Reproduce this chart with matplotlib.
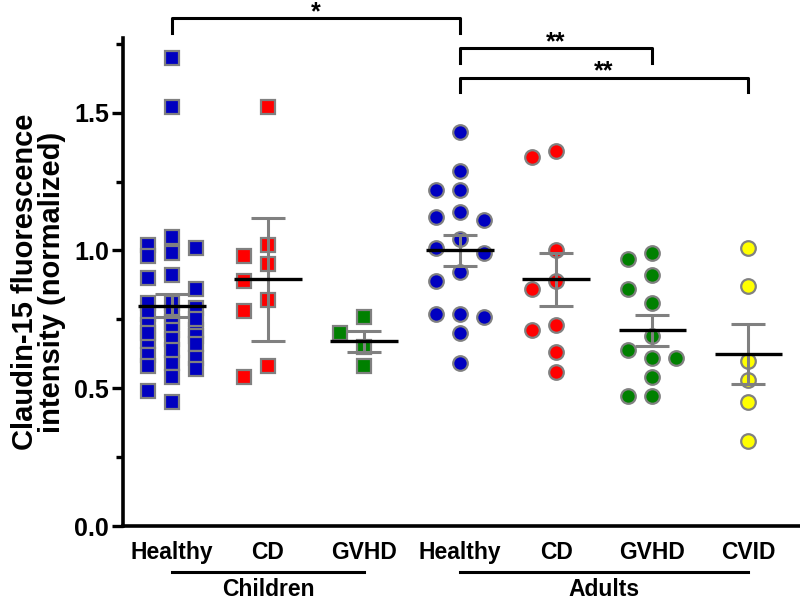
import numpy as np
import matplotlib.pyplot as plt
from matplotlib.ticker import FormatStrFormatter, MultipleLocator

plt.rcParams['font.family'] = ['Liberation Sans', 'DejaVu Sans']
plt.rcParams['font.weight'] = 'bold'

# group labels
groups = ['Healthy', 'CD', 'GVHD', 'Healthy', 'CD', 'GVHD', 'CVID']
cohorts = ['Children', 'Adults']
cohort_members = [(0, 2), (3, 6)]

# values
child_healthy = [1.70, 1.52, 1.05, 1.02, 0.99, 0.98, 1.01, 0.91, 0.90, 0.86,
                 0.81, 0.81, 0.77, 0.77, 0.79, 0.74, 0.71, 0.71, 0.69, 0.67,
                 0.66, 0.68, 0.62, 0.61, 0.57, 0.59, 0.58, 0.54, 0.49, 0.45,
                 0.75, 0.73, 0.70, 0.64]
child_cd = [1.52, 1.02, 0.98, 0.95, 0.89, 0.82, 0.78, 0.58, 0.54]
child_gvhd = [0.76, 0.70, 0.65, 0.58]
adult_healthy = [1.43, 1.29, 1.22, 1.22, 1.14, 1.11, 1.12, 1.04, 1.01, 0.99,
                 0.92, 0.89, 0.76, 0.77, 0.77, 0.70, 0.59]
adult_cd = [1.34, 1.36, 1.00, 0.89, 0.86, 0.73, 0.71, 0.63, 0.56]
adult_gvhd = [0.97, 0.99, 0.91, 0.86, 0.81, 0.69, 0.64, 0.61, 0.61, 0.54,
              0.47, 0.47]
adult_cvid = [1.01, 0.87, 0.60, 0.53, 0.45, 0.31]

means = [0.80, 0.895, 0.67, 1.00, 0.895, 0.71, 0.625]
errors = [0.043, 0.222, 0.039, 0.055, 0.096, 0.055, 0.108]

# significance: (group a, group b, label)
comparisons = [(0, 3, '*'), (3, 5, '**'), (3, 6, '**')]

data = [child_healthy, child_cd, child_gvhd, adult_healthy, adult_cd,
        adult_gvhd, adult_cvid]
colors = ['#0000C0', '#FF0000', '#008000', '#0000C0', '#FF0000', '#008000',
          '#FFFF00']
markers = ['s', 's', 's', 'o', 'o', 'o', 'o']

fig = plt.figure(figsize=(8, 6.01), dpi=100)
ax = fig.add_axes([123 / 800, 75 / 601, 677 / 800, 488 / 601])
ax.set_xlim(-0.51, 6.54)
ax.set_ylim(0, 1.771)

# pixels per data unit, used to spread points like a column scatter
px_x = 677 / 7.05
px_y = 488 / 1.771


def swarm(vals, square, diam=17):
    # squares pack in finer columns than circles
    if square:
        cands = [0, -12, 12, -24, 24]
    else:
        cands = [0, -24, 24, -12, 12]
    placed = []
    out = np.zeros(len(vals))
    for i in np.argsort(vals)[::-1]:
        y = vals[i] * px_y
        best, best_hits = 0, None
        for c in cands:
            hits = 0.0
            for px, py in placed:
                if square:
                    d = max(abs(c - px), abs(y - py))
                else:
                    d = np.hypot(c - px, y - py)
                if d < diam:
                    hits += diam - d
            if hits == 0:
                best = c
                break
            if best_hits is None or hits < best_hits:
                best, best_hits = c, hits
        placed.append((best, y))
        out[i] = best / px_x
    return out


for i, vals in enumerate(data):
    vals = np.array(vals)
    xs = i + swarm(vals, markers[i] == 's')
    ax.plot(xs, vals, linestyle='none', marker=markers[i], markersize=10.5,
            markerfacecolor=colors[i], markeredgecolor='#808080',
            markeredgewidth=1.6, zorder=2)

xpos = np.arange(len(groups))
ax.errorbar(xpos, means, yerr=errors, fmt='none', ecolor='#808080',
            elinewidth=2.2, capsize=12.5, capthick=2.2, zorder=3)
ax.hlines(means, xpos - 0.35, xpos + 0.35, colors='black', linewidth=2.4,
          zorder=4)

# significance brackets above the plot
tops = [1.843, 1.735, 1.627]
for (a, b, lab), top in zip(comparisons, tops):
    ax.plot([a, a, b, b], [top - 0.053, top, top, top - 0.053], color='black',
            linewidth=2.2, clip_on=False)
    ax.text((a + b) / 2, top - 0.004, lab, ha='center', va='baseline',
            fontsize=18, fontweight='bold')

# axes styling
for s in ['top', 'right']:
    ax.spines[s].set_visible(False)
for s in ['left', 'bottom']:
    ax.spines[s].set_linewidth(2.6)

ax.yaxis.set_major_locator(MultipleLocator(0.5))
ax.yaxis.set_minor_locator(MultipleLocator(0.25))
ax.yaxis.set_major_formatter(FormatStrFormatter('%.1f'))
ax.tick_params(axis='y', which='major', length=8, width=2.4, labelsize=18,
               pad=2)
ax.tick_params(axis='y', which='minor', length=5, width=2.4)
ax.set_xticks(xpos)
ax.set_xticklabels(groups)
ax.tick_params(axis='x', length=0, labelsize=16.5, pad=11)

ax.set_ylabel('Claudin-15 fluorescence\nintensity (normalized)', fontsize=21,
              fontweight='bold', labelpad=6, linespacing=0.95)

# cohort underlines and names
trans = ax.get_xaxis_transform()
for name, (a, b) in zip(cohorts, cohort_members):
    ax.plot([a, b], [-0.094, -0.094], color='black', linewidth=2.2,
            transform=trans, clip_on=False)
    ax.text((a + b) / 2, -0.131, name, transform=trans, ha='center',
            va='center', fontsize=16.5, fontweight='bold')

fig.savefig('out.png', dpi=100)
